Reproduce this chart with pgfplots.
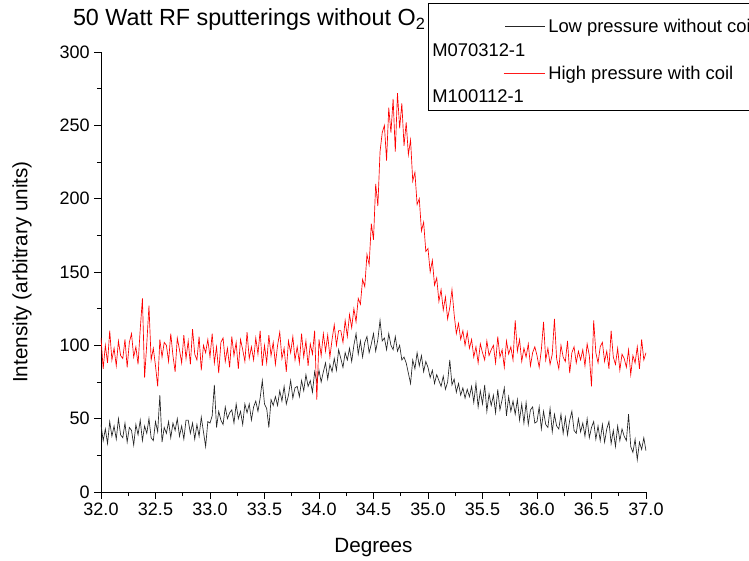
\documentclass[border=0pt]{standalone}
\usepackage{fontspec}
\setmainfont{Liberation Sans}
\usepackage{pgfplots}
\pgfplotsset{compat=1.18}
\usepackage{pgfplotstable}
\pgfplotstableread{
x b r
32.00 46 105
32.02 35 84
32.04 43 100
32.06 33 88
32.08 48 110
32.10 38 90
32.12 45 98
32.14 36 86
32.16 50 103
32.18 39 93
32.20 37 91
32.22 47 104
32.24 34 85
32.26 44 102
32.28 42 108
32.30 32 92
32.32 46 99
32.34 39 87
32.36 49 111
32.38 35 132
32.40 45 78
32.42 40 101
32.44 50 127
32.46 37 90
32.48 35 98
32.50 48 86
32.52 41 72
32.54 66 104
32.56 34 92
32.58 44 102
32.60 40 100
32.62 48 89
32.64 37 108
32.66 47 93
32.68 42 82
32.70 50 105
32.72 38 97
32.74 45 88
32.76 36 107
32.78 49 91
32.80 49 103
32.82 40 87
32.84 47 111
32.86 36 94
32.88 46 90
32.90 38 106
32.92 51 83
32.94 41 100
32.96 31 95
32.98 48 104
33.00 47 92
33.02 52 108
33.04 73 88
33.06 44 99
33.08 55 81
33.10 49 102
33.12 46 105
33.14 58 89
33.16 50 98
33.18 54 85
33.20 56 106
33.22 47 93
33.24 60 102
33.26 50 84
33.28 55 104
33.30 46 97
33.32 60 89
33.34 54 109
33.36 60 91
33.38 49 99
33.40 58 90
33.42 62 105
33.44 55 94
33.46 64 110
33.48 76 86
33.50 60 100
33.52 57 88
33.54 44 107
33.56 63 93
33.58 59 102
33.60 65 87
33.62 59 100
33.64 69 109
33.66 62 91
33.68 72 98
33.70 60 82
33.72 66 103
33.74 76 95
33.76 64 106
33.78 71 90
33.80 72 99
33.82 65 88
33.84 76 108
33.86 69 92
33.88 80 103
33.90 72 86
33.92 76 101
33.94 68 94
33.96 82 110
33.98 75 63
34.00 83 104
34.02 75 93
34.04 82 108
34.06 88 96
34.08 77 107
34.10 87 92
34.12 82 104
34.14 91 114
34.16 83 100
34.18 97 110
34.20 91 110
34.22 85 102
34.24 95 117
34.26 90 106
34.28 98 121
34.30 89 112
34.32 100 125
34.34 108 116
34.36 94 132
34.38 103 128
34.40 92 145
34.42 102 140
34.44 106 162
34.46 95 155
34.48 101 183
34.50 108 172
34.52 96 210
34.54 104 195
34.56 117 232
34.58 103 245
34.60 105 250
34.62 97 226
34.64 108 262
34.66 100 245
34.68 97 268
34.70 106 232
34.72 96 272
34.74 100 248
34.76 90 265
34.78 92 236
34.80 88 252
34.82 81 230
34.84 74 240
34.86 90 212
34.88 84 218
34.90 95 196
34.92 86 200
34.94 93 178
34.96 82 184
34.98 89 164
35.00 85 166
35.02 78 150
35.04 83 158
35.06 74 141
35.08 80 146
35.10 76 130
35.12 72 138
35.14 79 124
35.16 70 133
35.18 75 118
35.20 90 126
35.22 73 138
35.24 77 121
35.26 68 108
35.28 74 115
35.30 66 104
35.32 71 110
35.34 64 100
35.36 70 109
35.38 65 98
35.40 72 104
35.42 61 92
35.44 74 99
35.46 58 88
35.48 69 101
35.50 60 95
35.52 73 90
35.54 55 103
35.56 67 93
35.58 59 97
35.60 66 100
35.62 54 88
35.64 70 106
35.66 56 92
35.68 63 97
35.70 71 85
35.72 52 103
35.74 65 94
35.76 55 99
35.78 62 90
35.80 53 117
35.82 63 96
35.84 49 104
35.86 60 89
35.88 47 98
35.90 61 92
35.92 46 101
35.94 56 86
35.96 58 95
35.98 47 99
36.00 48 93
36.02 58 85
36.04 43 97
36.06 55 116
36.08 46 90
36.10 44 98
36.12 57 87
36.14 41 94
36.16 53 118
36.18 45 91
36.20 43 84
36.22 53 100
36.24 40 92
36.26 51 89
36.28 39 103
36.30 49 81
36.32 55 95
36.34 42 99
36.36 40 88
36.38 50 96
36.40 41 90
36.42 47 97
36.44 38 86
36.46 50 101
36.48 37 93
36.50 44 72
36.52 48 117
36.54 36 95
36.56 45 88
36.58 35 99
36.60 46 102
36.62 34 89
36.64 43 96
36.66 48 84
36.68 33 110
36.70 42 92
36.72 31 87
36.74 45 98
36.76 35 83
36.78 43 94
36.80 38 91
36.82 35 85
36.84 53 97
36.86 31 80
36.88 27 93
36.90 36 88
36.92 22 99
36.94 34 84
36.96 29 104
36.98 37 90
37.00 28 95
}\datatable
\begin{document}
\begin{tikzpicture}
\begin{axis}[
  at={(0pt,0pt)}, anchor=south west,
  scale only axis, width=408.75pt, height=330pt,
  xmin=32, xmax=37, ymin=0, ymax=300,
  axis lines*=left,
  axis line style={black, line width=0.6pt, -},
  xtick={32,32.5,33,33.5,34,34.5,35,35.5,36,36.5,37},
  ytick={0,50,100,150,200,250,300},
  minor x tick num=1, minor y tick num=1,
  tick align=outside,
  major tick length=5pt, minor tick length=3pt,
  tick style={black, line width=0.6pt},
  /pgf/number format/assume math mode=true,
  xticklabel style={/pgf/number format/.cd, fixed, fixed zerofill, precision=1},
  ticklabel style={font=\fontsize{13.5}{16}\selectfont},
  xlabel={Degrees},
  ylabel={Intensity (arbitrary units)},
  label style={font=\fontsize{15.5}{18}\selectfont},
  xlabel style={at={(axis description cs:0.5,-0.127)}, anchor=center},
  ylabel style={at={(axis description cs:-0.145,0.5)}, anchor=center},
  title={50 Watt RF sputterings without O\textsubscript{2}},
  title style={at={(axis description cs:-0.06,1.0417)}, anchor=base west, font=\fontsize{17.5}{20}\selectfont},
]
\addplot[black!85, line width=0.5pt] table[x=x, y=b] {\datatable};
\addplot[red, line width=0.5pt] table[x=x, y=r] {\datatable};
\end{axis}
% legend box (Origin style), clipped at the right page edge
\draw[black, line width=0.6pt] (245.25pt,286.5pt) rectangle (600pt,366.75pt);
\draw[draw=black!85, line width=0.6pt] (303pt,349.5pt) -- (333pt,349.5pt);
\draw[draw=red!90!white, line width=0.7pt] (302pt,314.25pt) -- (333pt,314.25pt);
\begin{scope}[every node/.style={anchor=base west, inner sep=0pt, font=\fontsize{13.8}{16}\selectfont}]
\node at (335.25pt,344.6pt) {Low pressure without coil};
\node at (248.25pt,326.6pt) {M070312-1};
\node at (335.25pt,309.4pt) {High pressure with coil};
\node at (248.25pt,292.1pt) {M100112-1};
\end{scope}
\pgfresetboundingbox
\useasboundingbox (-75.75pt,-51pt) rectangle (486pt,369pt);
\end{tikzpicture}
\end{document}
